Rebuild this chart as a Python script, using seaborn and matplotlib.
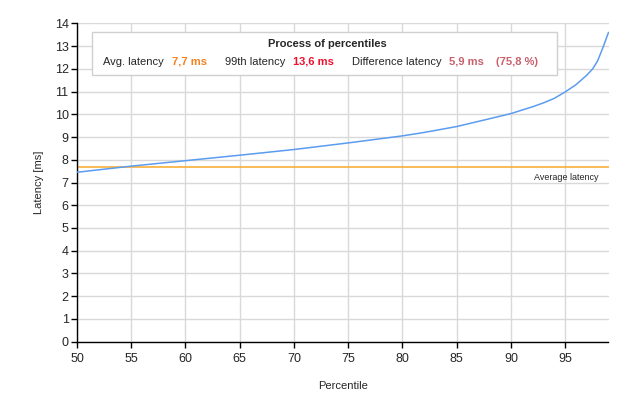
import matplotlib
matplotlib.use("Agg")
import matplotlib.pyplot as plt
from matplotlib.patches import Rectangle
import seaborn as sns

# percentile curve
percentiles = [50, 55, 60, 65, 70, 75, 80, 82, 85, 88, 90, 92, 93, 94, 95,
               96, 97, 97.55, 98, 98.5, 99]
latency_ms = [7.45, 7.72, 7.96, 8.2, 8.45, 8.74, 9.05, 9.2, 9.46, 9.8, 10.03,
              10.33, 10.5, 10.7, 10.98, 11.3, 11.72, 12.0, 12.35, 12.95, 13.6]
avg_latency = 7.7

x_ticks = [50, 55, 60, 65, 70, 75, 80, 85, 90, 95]
y_ticks = list(range(0, 15))

title = "Process of percentiles"
info_labels = ["Avg. latency", "99th latency", "Difference latency", ""]
info_values = ["7,7 ms", "13,6 ms", "5,9 ms", "(75,8 %)"]
value_colors = ["#f7801f", "#f0102e", "#c9606c", "#c9606c"]

W, H = 628, 404


def px(x, y):
    # pixel coords (top-left origin) -> figure fraction
    return x / W, 1 - y / H


def main():
    sns.set_style("white")
    plt.rcParams["font.family"] = ["Liberation Sans", "DejaVu Sans"]

    fig = plt.figure(figsize=(W / 100, H / 100), dpi=100)
    left, bottom = px(77, 341.7)
    right, top = px(608.5, 23.3)
    ax = fig.add_axes([left, bottom, right - left, top - bottom])

    ax.axhline(avg_latency, color="#f7a928", lw=1.1, zorder=2)
    sns.lineplot(x=percentiles, y=latency_ms, ax=ax, color="#5b9cf0",
                 lw=1.1, zorder=3)

    ax.set_xlim(50, 99)
    ax.set_ylim(0, 14)
    ax.set_xticks(x_ticks)
    ax.set_yticks(y_ticks)
    ax.grid(True, color="#d9d9d9", lw=1, zorder=0)
    ax.set_axisbelow(True)
    for s in ["top", "right"]:
        ax.spines[s].set_visible(False)
    for s in ["left", "bottom"]:
        ax.spines[s].set_color("black")
        ax.spines[s].set_linewidth(1)
    ax.tick_params(axis="both", direction="out", length=4, width=1,
                   color="black", labelsize=9, pad=2, left=True, bottom=True)
    ax.tick_params(axis="x", pad=4)
    ax.set_xlabel("Percentile", fontsize=8, labelpad=12)
    ax.set_ylabel("Latency [ms]", fontsize=8, labelpad=8)

    ax.annotate("Average latency", xy=(1, avg_latency),
                xycoords=ax.get_yaxis_transform(),
                xytext=(-7, -8), textcoords="offset points",
                ha="right", va="center", fontsize=6.5)

    # info box
    bx0, by1 = px(92, 32)
    bx1, by0 = px(557, 75)
    fig.add_artist(Rectangle((bx0, by0), bx1 - bx0, by1 - by0,
                             transform=fig.transFigure, facecolor="white",
                             edgecolor="#d0d0d0", lw=1, zorder=5))
    tx, ty = px(327, 44)
    fig.text(tx, ty, title, ha="center", va="center", fontsize=8,
             fontweight="bold", zorder=6)

    label_x = [103, 225, 352, None]
    value_x = [172, 293, 449, 496]
    row_y = 62
    for lab, lx, val, vx, c in zip(info_labels, label_x, info_values,
                                   value_x, value_colors):
        if lab:
            fig.text(*px(lx, row_y), lab, ha="left", va="center",
                     fontsize=8, zorder=6)
        fig.text(*px(vx, row_y), val, ha="left", va="center", fontsize=8,
                 fontweight="bold", color=c, zorder=6)

    fig.savefig("out.png", dpi=100)
    plt.close(fig)


if __name__ == "__main__":
    main()
